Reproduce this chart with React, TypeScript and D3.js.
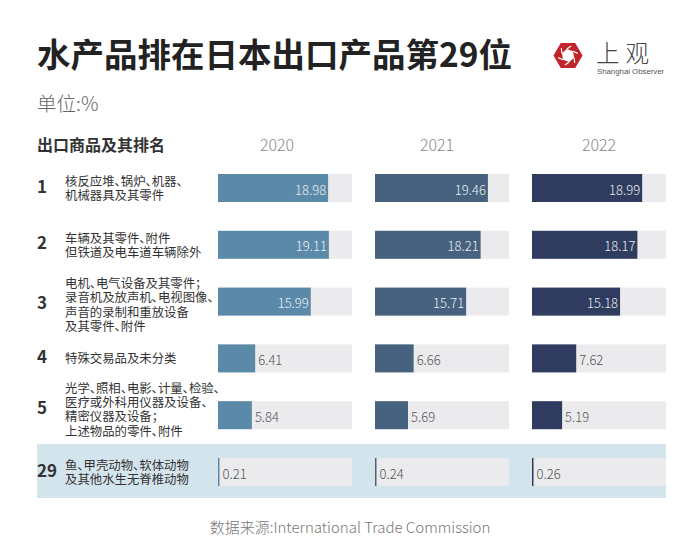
import React from "react";
import * as d3 from "d3";

const ranks = ["1", "2", "3", "4", "5", "29"];
const products: string[][] = [
  ["核反应堆、锅炉、机器、", "机械器具及其零件"],
  ["车辆及其零件、附件", "但铁道及电车道车辆除外"],
  ["电机、电气设备及其零件；", "录音机及放声机、电视图像、", "声音的录制和重放设备", "及其零件、附件"],
  ["特殊交易品及未分类"],
  ["光学、照相、电影、计量、检验、", "医疗或外科用仪器及设备、", "精密仪器及设备；", "上述物品的零件、附件"],
  ["鱼、甲壳动物、软体动物", "及其他水生无脊椎动物"],
];
const years = ["2020", "2021", "2022"];
const v2020 = [18.98, 19.11, 15.99, 6.41, 5.84, 0.21];
const v2021 = [19.46, 18.21, 15.71, 6.66, 5.69, 0.24];
const v2022 = [18.99, 18.17, 15.18, 7.62, 5.19, 0.26];
const series = [v2020, v2021, v2022];
const highlightRank = "29";

const title = "水产品排在日本出口产品第29位";
const unitText = "单位:%";
const headerText = "出口商品及其排名";
const sourceText = "数据来源:International Trade Commission";

// layout / style
const W = 700;
const H = 556;
const colors = ["#5b8aa9", "#46627f", "#2f3c5f"];
const trackColor = "#ebebed";
const bandColor = "#d3e4ec";
const colX = [218, 375, 532];
const yearOffset = [59, 62, 67];
const trackW = 134;
const barH = 28;
const labelShift = [0, 0, 3, 0, -6, 0];
const CJK = "'Noto Sans CJK SC', 'Noto Sans', sans-serif";

export default function App() {
  const y = d3.scalePoint<string>().domain(ranks).range([188, 472]);
  const x = d3.scaleLinear().domain([0, 23.1]).range([0, trackW]);

  const hex = (cx: number, cy: number, r: number, rot: number) =>
    d3.range(6).map((i) => {
      const a = (Math.PI / 3) * i + rot;
      return [cx + r * Math.cos(a), cy + r * Math.sin(a)] as [number, number];
    });
  const lineGen = d3.line().curve(d3.curveLinearClosed);
  const outer = hex(568, 55.5, 14.5, 0);
  const inner = hex(568, 55.5, 6.5, Math.PI / 9);

  return (
    <svg
      width={W}
      height={H}
      style={{ position: "absolute", left: 0, top: 0, background: "#fff", fontFeatureSettings: "'palt'" }}
    >
      <rect width={W} height={H} fill="#fff" />
      <text x={37} y={67} fontFamily={CJK} fontWeight={700} fontSize={33.5} fill="#222">
        {title}
      </text>
      <text x={37} y={111} fontFamily={CJK} fontWeight={300} fontSize={19.5} fill="#666">
        {unitText}
      </text>

      {/* logo */}
      <g>
        <path d={lineGen(outer) || ""} fill="#c0252b" />
        <path d={lineGen(inner) || ""} fill="#fff" />
        {inner.map((p, i) => {
          const o = outer[(i + 1) % 6];
          return <line key={i} x1={p[0]} y1={p[1]} x2={(p[0] + o[0]) / 2} y2={(p[1] + o[1]) / 2} stroke="#fff" strokeWidth={1.2} />;
        })}
        <text x={596} y={62} fontFamily={CJK} fontWeight={300} fontSize={23.5} fill="#444" letterSpacing={6}>
          上观
        </text>
        <text x={597} y={74} fontFamily="'Liberation Sans', Arial, sans-serif" fontSize={7.8} fill="#555">
          Shanghai Observer
        </text>
      </g>

      {/* header */}
      <text x={37} y={151} fontFamily={CJK} fontWeight={700} fontSize={16} fill="#333">
        {headerText}
      </text>
      {years.map((yr, i) => (
        <text
          key={yr}
          x={colX[i] + yearOffset[i]}
          y={151}
          textAnchor="middle"
          fontFamily={CJK}
          fontWeight={300}
          fontSize={16}
          fill="#888"
        >
          {yr}
        </text>
      ))}

      {/* highlight band */}
      {ranks.map((r) =>
        r === highlightRank ? (
          <rect key={"band" + r} x={37} y={(y(r) as number) - 28} width={629} height={54} fill={bandColor} />
        ) : null
      )}

      {ranks.map((r, ri) => {
        const cy = y(r) as number;
        const lines = products[ri];
        const lh = 14.3;
        const tcy = cy + labelShift[ri];
        const top = tcy - ((lines.length - 1) * lh) / 2;
        return (
          <g key={r}>
            <text
              x={37}
              y={tcy - 3}
              dominantBaseline="central"
              fontFamily={CJK}
              fontWeight={700}
              fontSize={17}
              fill="#333"
            >
              {r}
            </text>
            <text
              x={65}
              y={top}
              dominantBaseline="central"
              fontFamily={CJK}
              fontSize={12.4}
              fill="#333"
            >
              {lines.map((ln, li) => (
                <tspan key={li} x={65} dy={li === 0 ? 0 : lh}>
                  {ln}
                </tspan>
              ))}
            </text>
            {series.map((vals, si) => {
              const v = vals[ri];
              const bw = Math.max(x(v), 1.5);
              const inside = v >= 10;
              return (
                <g key={si} transform={`translate(${colX[si]},${cy - barH / 2})`}>
                  <rect width={trackW} height={barH} fill={trackColor} />
                  <rect width={bw} height={barH} fill={colors[si]} />
                  <text
                    x={inside ? bw - 2 : bw + 3}
                    y={barH / 2 + 1}
                    textAnchor={inside ? "end" : "start"}
                    dominantBaseline="central"
                    fontFamily={CJK}
                    fontWeight={300}
                    fontSize={13}
                    fill={inside ? "#e9eef2" : "#555"}
                  >
                    {v.toFixed(2)}
                  </text>
                </g>
              );
            })}
          </g>
        );
      })}

      <text
        x={350}
        y={526}
        textAnchor="middle"
        dominantBaseline="central"
        fontFamily={CJK}
        fontWeight={300}
        fontSize={15}
        fill="#777"
      >
        {sourceText}
      </text>
    </svg>
  );
}
